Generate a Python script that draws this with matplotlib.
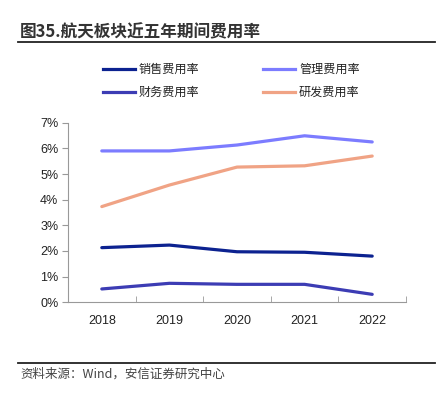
import matplotlib
matplotlib.use("Agg")
import matplotlib.pyplot as plt
from matplotlib.ticker import FuncFormatter
from matplotlib.lines import Line2D

plt.rcParams['font.family'] = ['Liberation Sans', 'Noto Sans CJK SC', 'DejaVu Sans']

years = ["2018", "2019", "2020", "2021", "2022"]
sales = [2.13, 2.23, 1.97, 1.95, 1.80]
admin = [5.90, 5.90, 6.13, 6.49, 6.25]
finance = [0.52, 0.74, 0.70, 0.70, 0.31]
rnd = [3.73, 4.57, 5.27, 5.32, 5.70]
yticks = [0, 1, 2, 3, 4, 5, 6, 7]

names = ["销售费用率", "管理费用率", "财务费用率", "研发费用率"]
colors = ["#0c2290", "#7c7cff", "#3c3cb4", "#f0a385"]
series = [sales, admin, finance, rnd]

fig = plt.figure(figsize=(4.41, 3.99), dpi=100)
ax = fig.add_axes([68/441, 1-302.3/399, (406-68)/441, (302.3-122.7)/399])

x = list(range(len(years)))
for s, c in zip(series, colors):
    ax.plot(x, s, color=c, lw=2.3, solid_capstyle='round')

ax.set_xlim(-0.5, 4.5)
ax.set_ylim(0, 7)
ax.set_yticks(yticks)
ax.yaxis.set_major_formatter(FuncFormatter(lambda v, p: f"{int(v)}%"))
ax.set_xticks(x)
ax.set_xticklabels(years)
ax.set_xticks([-0.5, 0.5, 1.5, 2.5, 3.5, 4.5], minor=True)
ax.tick_params(axis='x', which='major', length=0, pad=9, labelsize=9, colors='#222222')
ax.tick_params(axis='x', which='minor', length=4, direction='in', color='#999999')
ax.tick_params(axis='y', length=4, direction='out', color='#999999', labelsize=9, pad=3, labelcolor='#222222')
for sp in ['top', 'right']:
    ax.spines[sp].set_visible(False)
for sp in ['left', 'bottom']:
    ax.spines[sp].set_color('#999999')
    ax.spines[sp].set_linewidth(0.8)

# legend
pos = [(103, 69), (263, 69), (103, 92), (263, 92)]
for (px, py), n, c in zip(pos, names, colors):
    fy = 1 - py/399
    fig.add_artist(Line2D([px/441, (px+32)/441], [fy, fy], color=c, lw=2.3,
                          transform=fig.transFigure))
    fig.text((px+36)/441, fy, n, fontsize=8.7, va='center', ha='left',
             family=['Noto Sans CJK SC', 'DejaVu Sans'], color='#222222')

# title
fig.text(20/441, 1-32/399, "图35.航天板块近五年期间费用率", fontsize=12, fontweight='bold',
         va='center', ha='left', family=['Noto Sans CJK SC', 'DejaVu Sans'], color='#333333')
fig.add_artist(Line2D([18/441, 435/441], [1-42/399, 1-42/399], color='#222222', lw=1.3,
                      transform=fig.transFigure))
fig.add_artist(Line2D([18/441, 435/441], [1-363/399, 1-363/399], color='#222222', lw=1.3,
                      transform=fig.transFigure))
fig.text(20/441, 1-374/399, "资料来源：Wind，安信证券研究中心", fontsize=9, style='italic',
         va='center', ha='left', family=['Noto Sans CJK SC', 'DejaVu Sans'], color='#444444')

fig.savefig("out.png", dpi=100)
